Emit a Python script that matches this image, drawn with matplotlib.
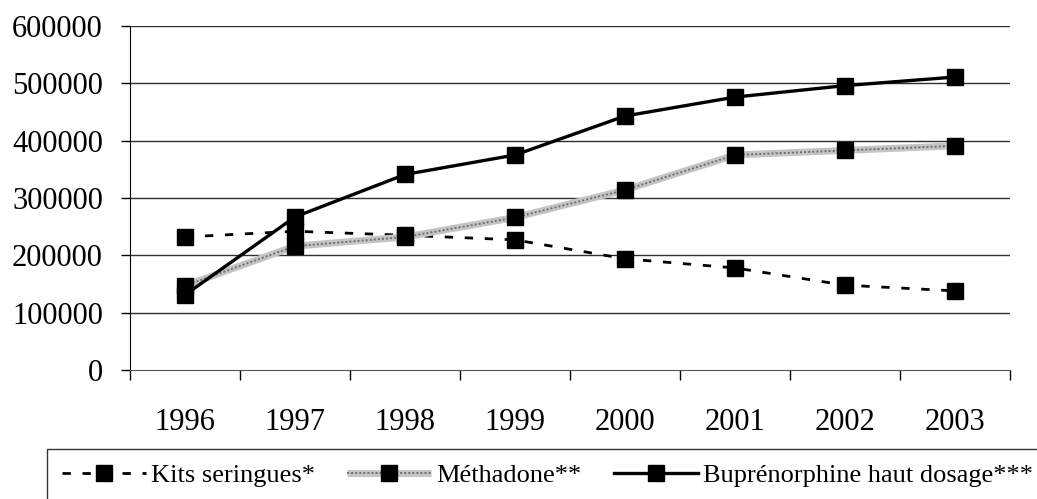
import matplotlib
matplotlib.use("Agg")
import matplotlib.pyplot as plt
from matplotlib.legend_handler import HandlerTuple

plt.rcParams["font.family"] = ["Liberation Serif", "DejaVu Serif"]

years = ["1996", "1997", "1998", "1999", "2000", "2001", "2002", "2003"]
kits = [232000, 242000, 235000, 227000, 194000, 178000, 148000, 138000]
methadone = [147000, 216000, 232000, 266000, 314000, 375000, 383000, 391000]
bupre = [131000, 267000, 341000, 375000, 443000, 476000, 496000, 511000]
y_ticks = [0, 100000, 200000, 300000, 400000, 500000, 600000]

labels = ["Kits seringues*", "Méthadone**", "Buprénorphine haut dosage***"]

fig = plt.figure(figsize=(10.37, 4.99), dpi=100)
ax = fig.add_axes([130 / 1037, 1 - 370 / 499, 880 / 1037, 344 / 499])

x = [i + 0.5 for i in range(len(years))]
ms = 11

# kits: dashed black
k_line, = ax.plot(x, kits, color="black", lw=2, dashes=(3, 4.2),
                  marker="s", ms=ms, mfc="black", mec="black", zorder=3)

# methadone: grey textured line
m_bg, = ax.plot(x, methadone, color="#c4c4c4", lw=5, solid_capstyle="butt", zorder=3)
m_fg, = ax.plot(x, methadone, color="#6e6e6e", lw=1.4, dashes=(1, 1.1), zorder=3)
m_mk, = ax.plot(x, methadone, ls="none", marker="s", ms=ms,
                mfc="black", mec="black", zorder=3)

# buprenorphine: solid black
b_line, = ax.plot(x, bupre, color="black", lw=2.4,
                  marker="s", ms=ms, mfc="black", mec="black", zorder=3)

ax.set_xlim(0, len(years))
ax.set_ylim(0, 600000)
ax.set_yticks(y_ticks)
ax.set_yticklabels([str(v) for v in y_ticks], fontsize=22)
ax.set_xticks(x)
ax.set_xticklabels(years, fontsize=22)
ax.set_xticks(range(len(years) + 1), minor=True)
ax.tick_params(axis="x", which="major", length=0, pad=27)
ax.tick_params(axis="x", which="minor", length=7, width=1, color="black")
ax.tick_params(axis="y", length=6.5, width=1, pad=13)

for v in y_ticks[1:]:
    ax.axhline(v, color="#303030", lw=1, zorder=1)

for s in ["top", "right"]:
    ax.spines[s].set_visible(False)
ax.spines["left"].set_color("black")
ax.spines["bottom"].set_color("#555555")

leg = fig.legend([k_line, (m_bg, m_fg, m_mk), b_line], labels,
                 handler_map={tuple: HandlerTuple(ndivide=1)},
                 loc="upper left", bbox_to_anchor=(47 / 1037, 1 - 449 / 499),
                 ncol=3, fontsize=19, frameon=True, fancybox=False,
                 edgecolor="black", borderaxespad=0, borderpad=0.55,
                 handlelength=3.2, handletextpad=0.2, columnspacing=1.2,
                 numpoints=1)
leg.get_frame().set_linewidth(1)

fig.savefig("out.png", dpi=100)
